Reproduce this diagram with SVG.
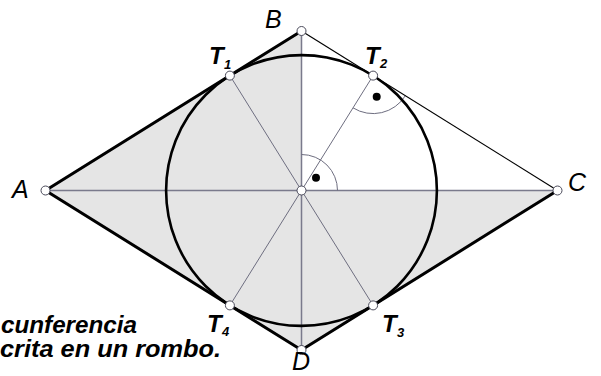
<svg xmlns="http://www.w3.org/2000/svg" width="601" height="376" viewBox="0 0 601 376">
<style>
.fill{fill:#e5e5e5;stroke:none}
.thick{stroke:#000;stroke-width:3;fill:none;stroke-linecap:round}
.thin{stroke:#000;stroke-width:1.2;fill:none}
.axis{stroke:#7a7a8c;stroke-width:1.5;fill:none}
.rad{stroke:#6e6e80;stroke-width:1;fill:none}
.mark{stroke:#6e6e80;stroke-width:1;fill:none}
.pt{fill:#fff;stroke:#4a4a5a;stroke-width:1}
.lbl{font-family:"Liberation Sans",Arial,sans-serif;font-style:italic;font-size:25px;fill:#000}
.tl{font-family:"Liberation Sans",Arial,sans-serif;font-style:italic;font-weight:bold;font-size:24px;fill:#000}
.sub{font-family:"Liberation Sans",Arial,sans-serif;font-style:italic;font-weight:bold;font-size:13px;fill:#000}
.cap{font-family:"Liberation Sans",Arial,sans-serif;font-style:italic;font-weight:bold;font-size:23px;fill:#000}
</style>
<rect width="601" height="376" fill="#fff"/>
<g id="shading">
<polygon class="fill" points="45.5,190.5 301.5,31 301.5,190.5 557.5,190.5 301.5,350"/>
</g>
<g id="construction">
<line class="axis" x1="45.5" y1="190.5" x2="557.5" y2="190.5"/>
<line class="axis" x1="301.5" y1="31" x2="301.5" y2="350"/>
<line class="rad" x1="301.5" y1="190.5" x2="229.9" y2="75.6"/>
<line class="rad" x1="301.5" y1="190.5" x2="373.1" y2="75.6"/>
<line class="rad" x1="301.5" y1="190.5" x2="373.1" y2="305.4"/>
<line class="rad" x1="301.5" y1="190.5" x2="229.9" y2="305.4"/>
<path class="mark" d="M301.5 154.5 A36 36 0 0 1 337.5 190.5"/>
<path class="mark" d="M405.35 95.7 A38 38 0 0 1 353 107.85"/>
<circle cx="316" cy="177.7" r="4" fill="#000"/>
<circle cx="376.7" cy="96.7" r="4" fill="#000"/>
</g>
<g id="circle">
<circle cx="301.5" cy="190.5" r="135.4" fill="none" stroke="#000" stroke-width="2.6"/>
</g>
<g id="rhombus">
<polyline class="thick" points="301.5,31 45.5,190.5 301.5,350 557.5,190.5"/>
<line class="thin" x1="301.5" y1="31" x2="557.5" y2="190.5"/>
</g>
<g id="points">
<circle class="pt" cx="45.5" cy="190.5" r="4.5"/>
<circle class="pt" cx="301.5" cy="31" r="4.5"/>
<circle class="pt" cx="557.5" cy="190.5" r="4.5"/>
<circle class="pt" cx="301.5" cy="350" r="4.5"/>
<circle class="pt" cx="301.5" cy="190.5" r="4.5"/>
<circle class="pt" cx="229.9" cy="75.6" r="4.5"/>
<circle class="pt" cx="373.1" cy="75.6" r="4.5"/>
<circle class="pt" cx="373.1" cy="305.4" r="4.5"/>
<circle class="pt" cx="229.9" cy="305.4" r="4.5"/>
</g>
<g id="labels">
<text class="lbl" x="12" y="198">A</text>
<text class="lbl" x="265" y="28">B</text>
<text class="lbl" x="568" y="191">C</text>
<text class="lbl" x="292" y="370">D</text>
<text class="tl" x="209" y="64">T</text><text class="sub" x="224" y="69">1</text>
<text class="tl" x="365" y="64">T</text><text class="sub" x="380" y="68">2</text>
<text class="tl" x="382" y="332">T</text><text class="sub" x="397" y="337">3</text>
<text class="tl" x="207" y="332">T</text><text class="sub" x="222" y="336">4</text>
</g>
<g id="caption">
<text class="cap" x="1" y="333" textLength="136" lengthAdjust="spacingAndGlyphs">cunferencia</text>
<text class="cap" x="0" y="357" textLength="221" lengthAdjust="spacingAndGlyphs">crita en un rombo.</text>
</g>
</svg>
